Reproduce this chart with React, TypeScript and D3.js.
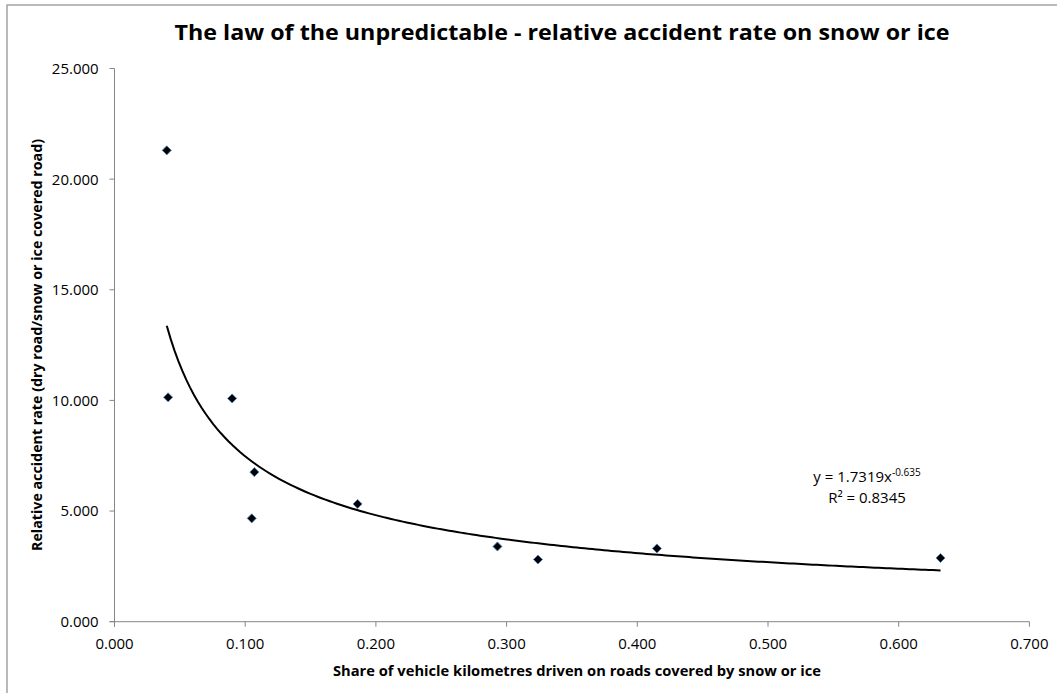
import React from "react";
import * as d3 from "d3";

// Share of vehicle kilometres on snow/ice-covered roads, and the relative accident rate
const shareSnowIce: number[] = [0.040, 0.041, 0.090, 0.107, 0.105, 0.186, 0.293, 0.324, 0.415, 0.632];
const accidentRate: number[] = [21.30, 10.14, 10.09, 6.76, 4.67, 5.32, 3.40, 2.81, 3.31, 2.88];

// Power trend line y = a * x^b
const trendA = 1.7319;
const trendB = -0.635;
const trendR2 = 0.8345;

const xTicks: number[] = [0, 0.1, 0.2, 0.3, 0.4, 0.5, 0.6, 0.7];
const yTicks: number[] = [0, 5, 10, 15, 20, 25];

const W = 1057;
const H = 693;
const FONT = "'Open Sans', 'Noto Sans', sans-serif";
const AXIS = "#868686";

export default function App() {
  const x = d3.scaleLinear().domain([0, 0.7]).range([114.5, 1029.4]);
  const y = d3.scaleLinear().domain([0, 25]).range([621.7, 68.5]);
  const fmt = d3.format(".3f");

  const [xMin, xMax] = d3.extent(shareSnowIce) as [number, number];
  const trendPts = d3.range(0, 201).map((i) => {
    const xv = xMin + ((xMax - xMin) * i) / 200;
    return [xv, trendA * Math.pow(xv, trendB)] as [number, number];
  });
  const trendPath = d3
    .line<[number, number]>()
    .x((d) => x(d[0]))
    .y((d) => y(d[1]))(trendPts) as string;

  const marker = d3.symbol().type(d3.symbolDiamond2).size(52)() as string;

  const x0 = x(0);
  const y0 = y(0);

  return (
    <div style={{ position: "absolute", left: 0, top: 0 }}>
      <svg width={W} height={H} style={{ display: "block", background: "#fff" }}>
        <rect x={7} y={5} width={W} height={H} fill="#fff" stroke="#8c8c8c" strokeWidth={1.2} />

        <text
          x={562}
          y={40}
          textAnchor="middle"
          fontFamily={FONT}
          fontWeight={700}
          fontSize={20.5}
          textLength={775}
          lengthAdjust="spacingAndGlyphs"
          fill="#000"
        >
          The law of the unpredictable - relative accident rate on snow or ice
        </text>

        {/* y axis */}
        <line x1={x0} x2={x0} y1={y(25)} y2={y0 + 5} stroke={AXIS} strokeWidth={1} />
        {yTicks.map((t) => (
          <g key={"y" + t}>
            <line x1={x0 - 5} x2={x0} y1={y(t)} y2={y(t)} stroke={AXIS} strokeWidth={1} />
            <text
              x={98.7}
              y={y(t) + 5.4}
              textAnchor="end"
              fontFamily={FONT}
              fontSize={15}
              fill="#000"
            >
              {fmt(t)}
            </text>
          </g>
        ))}

        {/* x axis */}
        <line x1={x0 - 5} x2={x(0.7)} y1={y0} y2={y0} stroke={AXIS} strokeWidth={1} />
        {xTicks.map((t) => (
          <g key={"x" + t}>
            <line x1={x(t)} x2={x(t)} y1={y0} y2={y0 + 5} stroke={AXIS} strokeWidth={1} />
            <text x={x(t)} y={649} textAnchor="middle" fontFamily={FONT} fontSize={15} fill="#000">
              {fmt(t)}
            </text>
          </g>
        ))}

        <text
          x={577}
          y={676}
          textAnchor="middle"
          fontFamily={FONT}
          fontWeight={700}
          fontSize={14.5}
          textLength={488}
          lengthAdjust="spacingAndGlyphs"
          fill="#000"
        >
          Share of vehicle kilometres driven on roads covered by snow or ice
        </text>

        <text
          transform={`translate(42,345) rotate(-90)`}
          textAnchor="middle"
          fontFamily={FONT}
          fontWeight={700}
          fontSize={14.5}
          textLength={412}
          lengthAdjust="spacingAndGlyphs"
          fill="#000"
        >
          Relative accident rate (dry road/snow or ice covered road)
        </text>

        {/* trend line */}
        <path d={trendPath} fill="none" stroke="#000" strokeWidth={2} />

        {/* data points */}
        {shareSnowIce.map((sv, i) => (
          <path
            key={"p" + i}
            d={marker}
            transform={`translate(${x(sv)},${y(accidentRate[i])})`}
            fill="#000"
            stroke="#4f81bd"
            strokeWidth={0.9}
          />
        ))}

        {/* trend equation */}
        <text x={867} y={481.7} textAnchor="middle" fontFamily={FONT} fontSize={15} fill="#000">
          {`y = ${trendA}x`}
          <tspan fontSize={10} dy={-6}>
            {String(trendB)}
          </tspan>
        </text>
        <text x={867} y={503.3} textAnchor="middle" fontFamily={FONT} fontSize={15} fill="#000">
          {`R² = ${trendR2}`}
        </text>
      </svg>
    </div>
  );
}
